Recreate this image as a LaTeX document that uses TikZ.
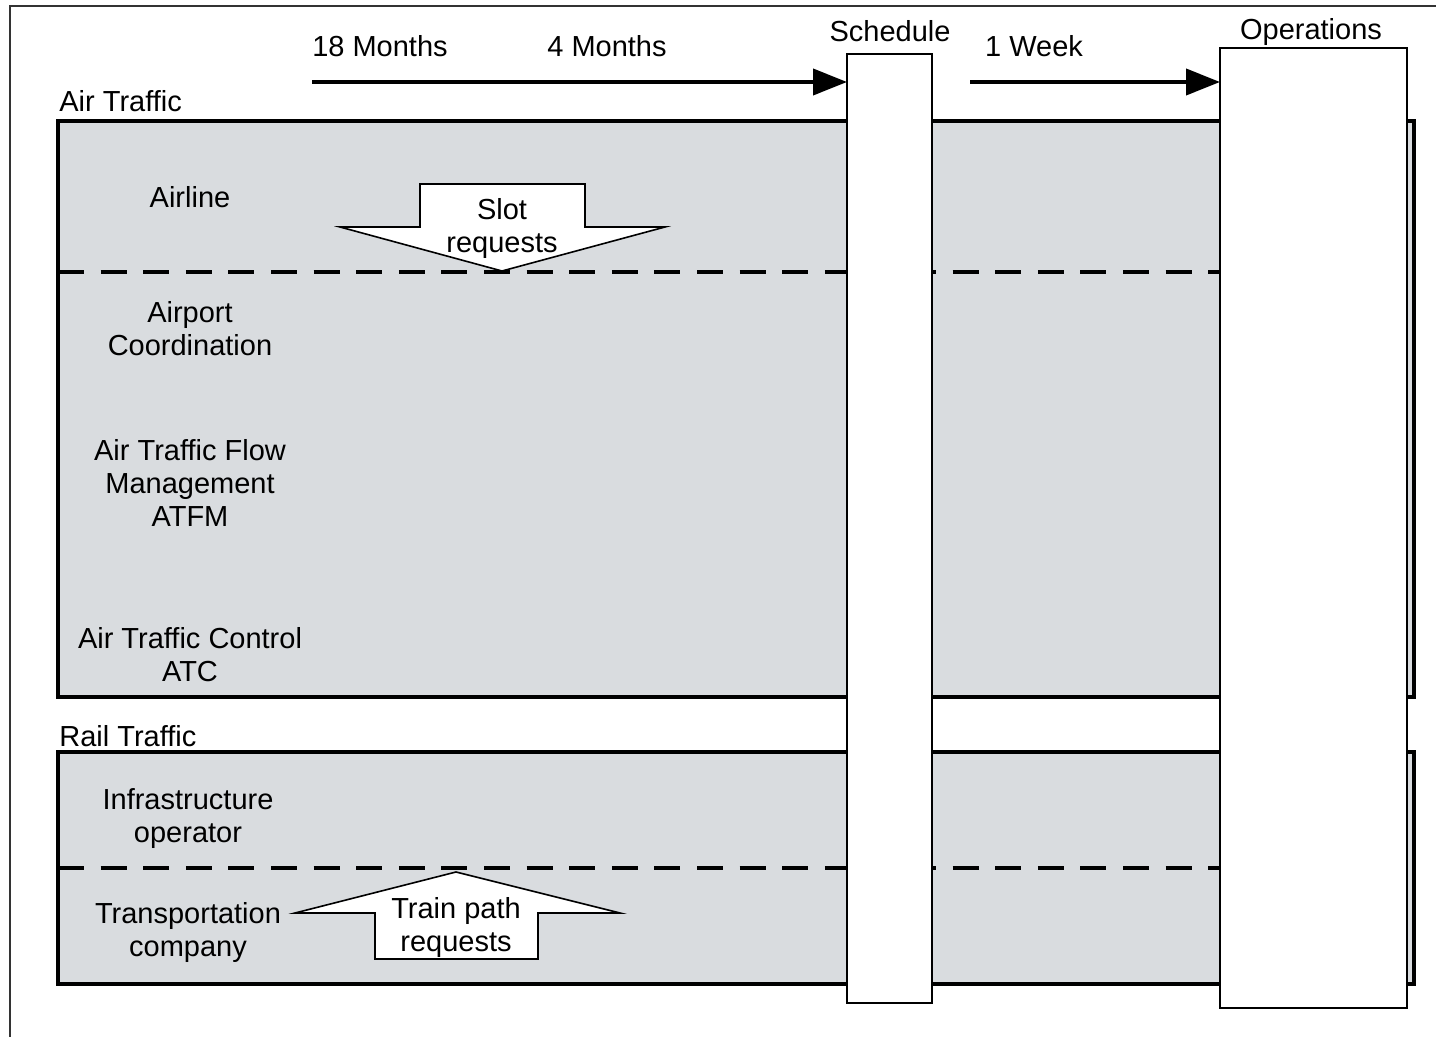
\documentclass[tikz,border=0pt]{standalone}
\usepackage{fontspec}
\setmainfont{Liberation Sans}
\usetikzlibrary{arrows.meta}
\definecolor{panelgray}{HTML}{D9DCDF}
\definecolor{framegray}{HTML}{333333}
\tikzset{
  panel/.style={draw=black, line width=2pt, fill=panelgray, inner sep=0pt, outer sep=0pt, anchor=north west},
  column/.style={draw=black, line width=1pt, fill=white, inner sep=0pt, outer sep=0pt, anchor=north west},
  dashline/.style={line width=2pt, dash pattern=on 13pt off 8.3pt},
  timearrow/.style={line width=2pt, -{Triangle[length=17pt,width=13pt]}},
  blockarrow/.style={draw=black, line width=0.8pt, fill=white, line join=miter},
  lbl/.style={font=\fontsize{14.5pt}{16.5pt}\selectfont, align=center, inner sep=0pt, text height=0.72em, text depth=0.2em},
}
\begin{document}
\begin{tikzpicture}[x=0.5pt, y=-0.5pt]
\useasboundingbox (0,0) rectangle (1436,1037);
% outer frame
\coordinate (fTL) at (10,6);
\coordinate (fBL) at (10,1037);
\coordinate (fTR) at (1436,6);
\draw[framegray, line width=1pt] (fBL) -- (fTL) -- (fTR);
% panels
\node[panel, minimum width=678pt, minimum height=288pt] (air) at (58,121) {};
\node[panel, minimum width=678pt, minimum height=116pt] (rail) at (58,752) {};
% dashed separators
\coordinate (d1) at (0,272);
\coordinate (d2) at (0,868);
\coordinate (opsL) at (1220,0);
\draw[dashline] (air.west |- d1) -- (opsL |- d1);
\draw[dashline] (rail.west |- d2) -- (opsL |- d2);
% block arrows
\draw[blockarrow] (420,184) -- (585,184) -- (585,227) -- (665,227) -- (502,271) -- (340,227) -- (420,227) -- cycle;
\draw[blockarrow] (456,872) -- (620,913) -- (538,913) -- (538,959) -- (375,959) -- (375,913) -- (295,913) -- cycle;
\node[lbl] (slot) at (502,247) {Slot\\requests};
\node[lbl] (train) at (456,946) {Train path\\requests};
% columns
\node[column, minimum width=42.5pt, minimum height=474.5pt] (sched) at (847,54) {};
\node[column, minimum width=93.5pt, minimum height=480pt] (ops) at (1220,48) {};
% time arrows
\coordinate (a1s) at (312,82);
\coordinate (a2s) at (970,82);
\draw[timearrow] (a1s) -- (sched.west |- a1s);
\draw[timearrow] (a2s) -- (ops.west |- a2s);
% labels
\node[lbl] (m18) at (380,51) {18 Months};
\node[lbl] (m4) at (607,51) {4 Months};
\node[lbl] (schedlbl) at (890,36) {Schedule};
\node[lbl] (week) at (1034,51) {1 Week};
\node[lbl] (opslbl) at (1311,34) {Operations};
\node[lbl, anchor=west] (airlbl) at (59,106) {Air Traffic};
\node[lbl, anchor=west] (raillbl) at (59,741) {Rail Traffic};
\node[lbl] (airline) at (190,202) {Airline};
\node[lbl] (apc) at (190,350) {Airport\\Coordination};
\node[lbl] (atfm) at (190,521) {Air Traffic Flow\\Management\\ATFM};
\node[lbl] (atc) at (190,676) {Air Traffic Control\\ATC};
\node[lbl] (infra) at (188,837) {Infrastructure\\operator};
\node[lbl] (trans) at (188,951) {Transportation\\company};
\end{tikzpicture}
\end{document}
